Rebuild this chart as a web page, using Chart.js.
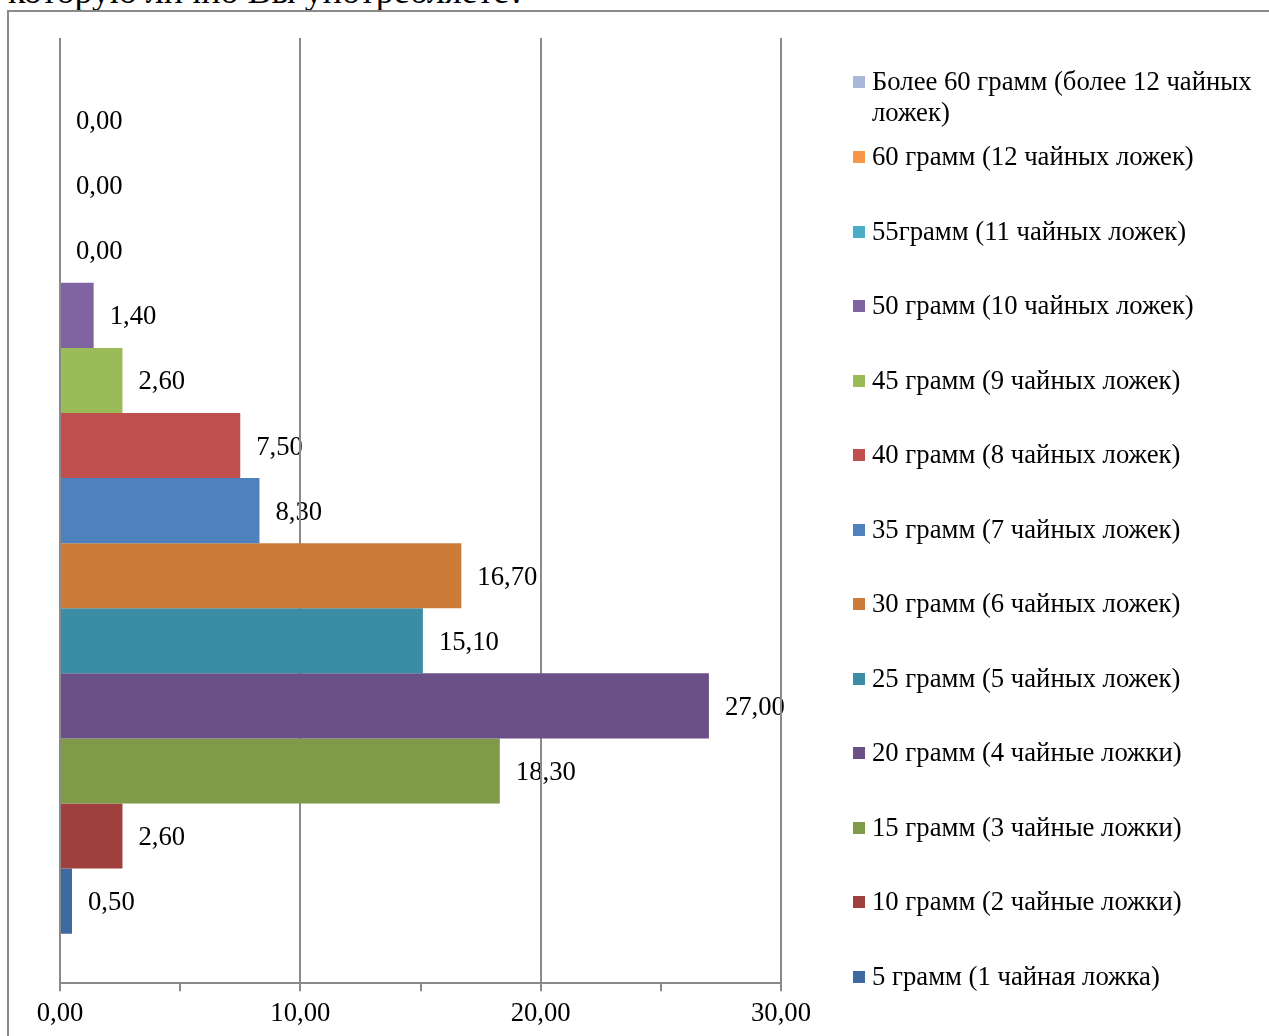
<!DOCTYPE html>
<html lang="ru">
<head>
<meta charset="utf-8">
<title>Сахар</title>
<script src="https://cdn.jsdelivr.net/npm/chart.js@4.4.1/dist/chart.umd.min.js"></script>
<style>
  html,body{margin:0;padding:0;background:#fff;}
  body{width:1269px;height:1036px;position:relative;overflow:hidden;
       font-family:'Liberation Serif','Times New Roman',serif;color:#000;}
  #title{position:absolute;left:8px;top:-27px;font-size:36px;line-height:36px;white-space:nowrap;}
  #frame{position:absolute;left:7px;top:10px;width:1300px;height:1100px;
         border-left:2px solid #8a8a8a;border-top:2px solid #8a8a8a;}
  #wrap{position:absolute;left:0;top:0;width:1269px;height:1036px;}
  #legend{position:absolute;left:0;top:0;}
  .li{position:absolute;left:853px;width:400px;font-size:26.7px;line-height:31px;}
  .li i{position:absolute;left:0;top:10px;width:12px;height:12px;}
  .li span{display:block;margin-left:19px;}
</style>
</head>
<body>
<div id="title">которую лично Вы употребляете?</div>
<div id="frame"></div>
<div id="wrap"><canvas id="c" width="1269" height="1036"></canvas></div>
<div id="legend"></div>
<script>
// ── ДАННЫЕ ─────────────────────────────────────────
const cats = [
  '5 грамм (1 чайная ложка)',
  '10 грамм (2 чайные ложки)',
  '15 грамм (3 чайные ложки)',
  '20 грамм (4 чайные ложки)',
  '25 грамм (5 чайных ложек)',
  '30 грамм (6 чайных ложек)',
  '35 грамм (7 чайных ложек)',
  '40 грамм (8 чайных ложек)',
  '45 грамм (9 чайных ложек)',
  '50 грамм (10 чайных ложек)',
  '55грамм (11 чайных ложек)',
  '60 грамм (12 чайных ложек)',
  'Более 60 грамм (более 12 чайных ложек)',
];
const vals = [0.5, 2.6, 18.3, 27.0, 15.1, 16.7, 8.3, 7.5, 2.6, 1.4, 0, 0, 0];
const colors = ['#3e69a1','#a0403e','#7f9a48','#6a5086','#3b8da5','#cc7b38',
                '#4f81bd','#c0504d','#9bbb59','#8064a2','#4bacc6','#f79646','#a9b8d8'];
const xTicks = [0, 10, 20, 30];

const FONT = "'Liberation Serif','Times New Roman',serif";
const GRID = '#8a8a8a';
const fmt = v => v.toFixed(2).replace('.', ',');

// в Excel верхний столбец — последняя серия
const order = cats.map((_, i) => i).reverse();
const datasets = order.map(i => ({
  label: cats[i], data: [vals[i]], backgroundColor: colors[i],
  borderWidth: 0, barPercentage: 1, categoryPercentage: 0.895,
}));

// подписи значений — до сетки, чтобы линии шли поверх
const valueLabels = {
  id: 'valueLabels',
  beforeDraw(chart) {
    const ctx = chart.ctx;
    ctx.save();
    ctx.font = '26.7px ' + FONT;
    ctx.fillStyle = '#000';
    ctx.textAlign = 'left';
    ctx.textBaseline = 'middle';
    chart.data.datasets.forEach((ds, di) => {
      chart.getDatasetMeta(di).data.forEach((bar, j) => {
        ctx.fillText(fmt(ds.data[j]), bar.x + 16, bar.y + 2);
      });
    });
    ctx.restore();
  }
};

const chart = new Chart(document.getElementById('c'), {
  type: 'bar',
  data: { labels: [''], datasets },
  options: {
    indexAxis: 'y', responsive: false, animation: false, devicePixelRatio: 1,
    layout: { padding: { left: 60, right: 488, top: 38, bottom: 0 } },
    plugins: { legend: { display: false }, tooltip: { enabled: false } },
    scales: {
      y: { display: false },
      x: {
        min: 0, max: 30,
        border: { display: true, color: GRID, width: 2 },
        grid: {
          color: c => xTicks.includes(c.tick && c.tick.value) ? GRID : 'rgba(0,0,0,0)',
          tickColor: GRID, lineWidth: 2, tickLength: 8,
        },
        ticks: {
          stepSize: 5, autoSkip: false, maxRotation: 0, padding: 9, color: '#000',
          font: { family: FONT, size: 26.7, lineHeight: 1 },
          callback: v => xTicks.includes(v) ? fmt(v) : '',
        },
      },
    },
  },
  plugins: [valueLabels],
});

// ── ЛЕГЕНДА ───────────────────────────────────────
const leg = document.getElementById('legend');
chart.data.datasets.forEach((ds, i) => {
  const top = i === 0 ? 66 : 141 + (i - 1) * 74.5;
  const el = document.createElement('div');
  el.className = 'li';
  el.style.top = top + 'px';
  el.innerHTML = '<i style="background:' + ds.backgroundColor + '"></i><span>' + ds.label + '</span>';
  leg.appendChild(el);
});
</script>
</body>
</html>
